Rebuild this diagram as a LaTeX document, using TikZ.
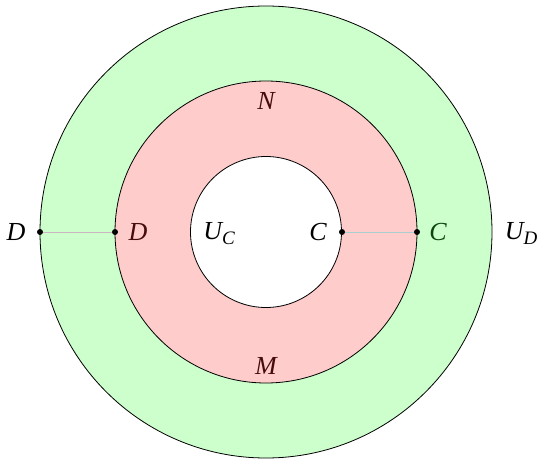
\documentclass[tikz,border=0pt]{standalone}
\usepackage{tikz}
\usepackage{fontspec}
\newfontfamily\labfont{Liberation Serif}
\definecolor{ringgreen}{RGB}{204,255,204}
\definecolor{ringred}{RGB}{255,204,204}
\definecolor{txtred}{RGB}{70,12,12}
\definecolor{txtgreen}{RGB}{12,70,12}
\definecolor{linered}{RGB}{205,180,195}
\definecolor{linecyan}{RGB}{170,205,205}
\newcommand{\subl}[2]{#1\raisebox{-5pt}{\fontsize{19}{20}\selectfont #2}}
\tikzset{
  lab/.style={inner sep=0pt, font=\labfont\itshape\fontsize{26}{30}\selectfont},
  pt/.style={circle, fill=black, inner sep=0pt, minimum size=6pt},
}
\begin{document}
\begin{tikzpicture}[x=1pt,y=-1pt]
\useasboundingbox (0,0) rectangle (538,460);
\coordinate (O) at (266,232);
\draw[fill=ringgreen, line width=0.8pt] (O) circle (226);
\draw[fill=ringred, line width=0.8pt] (O) circle (151);
\draw[fill=white, line width=0.8pt] (O) circle (75.5);
\node[pt] (d1) at (40,232) {};
\node[pt] (d2) at (115,232) {};
\node[pt] (c1) at (342,232) {};
\node[pt] (c2) at (417,232) {};
\draw[linered, line width=0.8pt] (d1) -- (d2);
\draw[linecyan, line width=0.8pt] (c1) -- (c2);
\node[lab] (lD1) at (16,232) {D};
\node[lab, text=txtred] (lD2) at (138,232) {D};
\node[lab] (lUC) at (219,234) {\subl{U}{C}};
\node[lab] (lC1) at (318,232) {C};
\node[lab, text=txtgreen] (lC2) at (438,232) {C};
\node[lab] (lUD) at (521,234) {\subl{U}{D}};
\node[lab, text=txtred] (lN) at (266,101) {N};
\node[lab, text=txtred] (lM) at (266,366) {M};
\end{tikzpicture}
\end{document}
